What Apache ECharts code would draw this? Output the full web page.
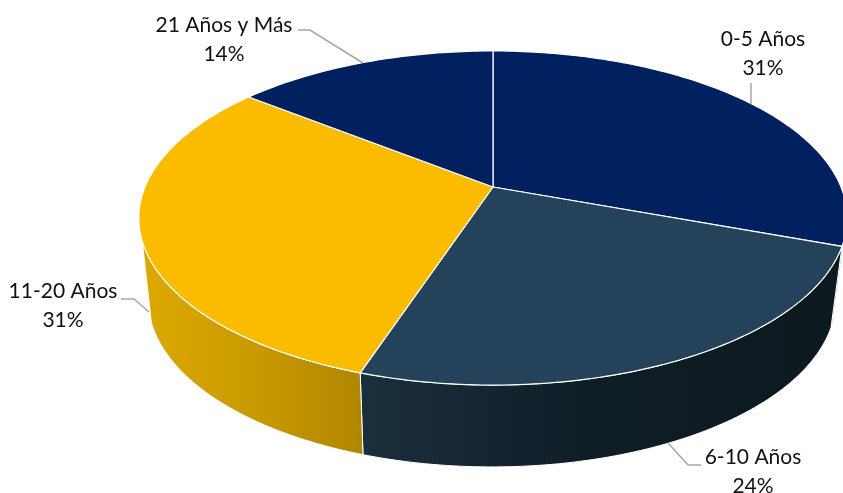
<!DOCTYPE html>
<html><head><meta charset="utf-8">
<style>html,body{margin:0;padding:0;background:#fff}#c{width:843px;height:493px}</style>
<script src="https://cdn.jsdelivr.net/npm/echarts@6/dist/echarts.min.js"></script>
</head><body><div id="c"></div>
<script>
const categories = ['0-5 Años', '6-10 Años', '11-20 Años', '21 Años y Más'];
const values = [30.6, 24.49, 30.6, 14.31];
const topColors = ['#002060', '#24435A', '#FBBC00', '#002060'];
const wallStops = [
  ['#001a4d', '#001a4d'],
  ['#1a2f3c', '#0f1d25', '#0c191f'],
  ['#DDA800', '#C99A00', '#B08600'],
  ['#001a4d', '#001a4d']
];
const labelCenters = [[763, 39], [753, 457], [63, 291], [224, 25]];
const leaders = [
  [[751, 83], [751, 104]],
  [[668, 443], [688, 465], [701, 465]],
  [[121, 299], [134, 299], [149, 312]],
  [[298, 30], [310, 30], [363, 63]]
];

// Perspective projection of the pie disc
const K = 0.1856;
const topPlane = { cx: 493, cy: 187, w: 348, h: 161.3 };
const basePlane = { cx: 492, cy: 268, w: 338, h: 162 };
const VISIBLE_FROM = 108.4, VISIBLE_TO = 251.6;
const total = values.reduce((a, b) => a + b, 0);

function project(plane, deg) {
  const t = deg * Math.PI / 180, u = Math.sin(t), v = -Math.cos(t), d = 1 - K * v;
  return [plane.cx + plane.w * u / d, plane.cy + plane.h * v / d];
}
function sliceAngles(i) {
  let s = 0;
  for (let j = 0; j < i; j++) s += values[j];
  return [s / total * 360, (s + values[i]) / total * 360];
}
function arc(plane, a0, a1) {
  const pts = [], n = Math.max(2, Math.ceil(Math.abs(a1 - a0)));
  for (let k = 0; k <= n; k++) pts.push(project(plane, a0 + (a1 - a0) * k / n));
  return pts;
}
const seriesData = categories.map((name, i) => ({ name, value: values[i] }));

const option = {
  animation: false,
  backgroundColor: '#fff',
  series: [
    {
      type: 'custom', coordinateSystem: 'none', silent: true, z: 1,
      data: seriesData,
      renderItem(params) {
        const i = params.dataIndex;
        const [a0, a1] = sliceAngles(i);
        const from = Math.max(a0, VISIBLE_FROM), to = Math.min(a1, VISIBLE_TO);
        if (to <= from) return { type: 'group', children: [] };
        const stops = wallStops[i].map((color, k, arr) => ({ offset: k / (arr.length - 1), color }));
        return {
          type: 'polygon',
          shape: { points: arc(topPlane, from, to).concat(arc(basePlane, to, from)) },
          style: {
            fill: new echarts.graphic.LinearGradient(0, 0, 1, 0, stops),
            stroke: '#ffffff', lineWidth: 1
          }
        };
      }
    },
    {
      type: 'custom', coordinateSystem: 'none', silent: true, z: 2,
      data: seriesData,
      renderItem(params) {
        const i = params.dataIndex;
        const [a0, a1] = sliceAngles(i);
        return {
          type: 'polygon',
          shape: { points: [[topPlane.cx, topPlane.cy]].concat(arc(topPlane, a0, a1)) },
          style: { fill: topColors[i], stroke: '#ffffff', lineWidth: 1.2, lineJoin: 'round' }
        };
      }
    },
    {
      type: 'custom', coordinateSystem: 'none', silent: true, z: 3,
      data: seriesData,
      renderItem(params) {
        const i = params.dataIndex;
        const [x, y] = labelCenters[i];
        const font = '21px Lato, Carlito, sans-serif';
        return {
          type: 'group',
          children: [
            { type: 'polyline', shape: { points: leaders[i] }, style: { fill: 'none', stroke: '#A6A6A6', lineWidth: 1.5 } },
            { type: 'text', style: { x, y, text: categories[i], font, fill: '#111111', align: 'center', verticalAlign: 'middle' } },
            { type: 'text', style: { x, y: y + 29.5, text: Math.round(values[i]) + '%', font, fill: '#111111', align: 'center', verticalAlign: 'middle' } }
          ]
        };
      }
    }
  ]
};
echarts.init(document.getElementById('c'), null, { renderer: 'canvas' }).setOption(option);
</script></body></html>
